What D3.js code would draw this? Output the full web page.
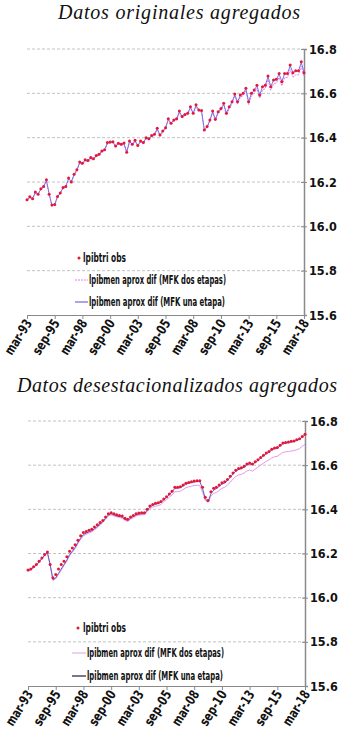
<!DOCTYPE html>
<html>
<head>
<meta charset="utf-8">
<script src="https://cdn.jsdelivr.net/npm/d3@7"></script>
<style>
  body { margin: 0; background: #fff; }
  svg { display: block; }
  .tick-lab { font-family: "Liberation Sans Narrow", "DejaVu Sans Condensed", sans-serif; font-weight: bold; font-size: 12.5px; fill: #111; }
  .xlab { font-size: 13.5px; }
  .leg { font-family: "Liberation Sans Narrow", "DejaVu Sans Condensed", sans-serif; font-weight: bold; font-size: 12px; fill: #111; }
  .title { font-family: "Liberation Serif", "DejaVu Serif", serif; font-style: italic; font-size: 20px; fill: #111; }
</style>
</head>
<body>
<div id="chart"></div>
<script>
// eje x: etiquetas cada 30 meses, eje y: niveles
var xTickLabels = ["mar-93", "sep-95", "mar-98", "sep-00", "mar-03", "sep-05", "mar-08", "sep-10", "mar-13", "sep-15", "mar-18"];
var yTicks = [15.6, 15.8, 16.0, 16.2, 16.4, 16.6, 16.8];
var legendLabels = ["lpibtri obs", "lpibmen aprox dif (MFK dos etapas)", "lpibmen aprox dif (MFK una etapa)"];
var titles = ["Datos originales agregados", "Datos desestacionalizados agregados"];

// trimestres mar-93 ... mar-18
var quarters = d3.timeMonth.range(new Date(1993, 2, 1), new Date(2018, 3, 1), 3);
var tickDates = d3.timeMonth.range(new Date(1993, 2, 1), new Date(2018, 3, 1), 30);

// ---- datos originales ----
var origObs = [
  16.120, 16.133, 16.125, 16.155, 16.145, 16.170, 16.180, 16.210,
  16.145, 16.096, 16.098, 16.135, 16.150, 16.175, 16.180, 16.218,
  16.200, 16.235, 16.255, 16.290, 16.285, 16.300, 16.297, 16.310,
  16.305, 16.320, 16.325, 16.340, 16.345, 16.378, 16.380, 16.382,
  16.362, 16.375, 16.370, 16.376, 16.334, 16.385, 16.370, 16.388,
  16.365, 16.385, 16.378, 16.400, 16.395, 16.410, 16.415, 16.442,
  16.412, 16.430, 16.445, 16.485, 16.465, 16.480, 16.485, 16.520,
  16.495, 16.505, 16.510, 16.540, 16.510, 16.548, 16.525, 16.522,
  16.435, 16.450, 16.480, 16.520, 16.483, 16.517, 16.532, 16.555,
  16.510, 16.540, 16.562, 16.597, 16.562, 16.592, 16.600, 16.623,
  16.562, 16.600, 16.615, 16.637, 16.592, 16.630, 16.637, 16.678,
  16.630, 16.660, 16.663, 16.690, 16.652, 16.690, 16.690, 16.728,
  16.693, 16.702, 16.702, 16.743, 16.693
];
var origDos = [
  16.117, 16.129, 16.123, 16.150, 16.143, 16.166, 16.178, 16.204,
  16.144, 16.092, 16.097, 16.130, 16.147, 16.170, 16.177, 16.212,
  16.198, 16.230, 16.251, 16.284, 16.281, 16.295, 16.293, 16.305,
  16.301, 16.315, 16.321, 16.335, 16.341, 16.372, 16.376, 16.377,
  16.358, 16.370, 16.366, 16.371, 16.331, 16.380, 16.366, 16.383,
  16.361, 16.380, 16.374, 16.395, 16.390, 16.405, 16.410, 16.436,
  16.407, 16.424, 16.440, 16.478, 16.460, 16.474, 16.479, 16.513,
  16.489, 16.499, 16.504, 16.533, 16.504, 16.540, 16.519, 16.515,
  16.430, 16.443, 16.472, 16.512, 16.476, 16.509, 16.524, 16.546,
  16.502, 16.531, 16.552, 16.587, 16.552, 16.582, 16.590, 16.612,
  16.550, 16.587, 16.601, 16.622, 16.578, 16.615, 16.621, 16.661,
  16.614, 16.643, 16.646, 16.672, 16.634, 16.671, 16.671, 16.708,
  16.673, 16.683, 16.683, 16.722, 16.675
];
var origUna = [
  16.118, 16.131, 16.126, 16.153, 16.146, 16.168, 16.181, 16.207,
  16.147, 16.094, 16.100, 16.133, 16.151, 16.173, 16.181, 16.215,
  16.202, 16.233, 16.256, 16.287, 16.286, 16.298, 16.298, 16.308,
  16.306, 16.318, 16.326, 16.338, 16.346, 16.375, 16.380, 16.380,
  16.363, 16.373, 16.371, 16.374, 16.336, 16.383, 16.371, 16.386,
  16.366, 16.383, 16.379, 16.398, 16.396, 16.408, 16.416, 16.440,
  16.413, 16.428, 16.446, 16.482, 16.466, 16.478, 16.486, 16.517,
  16.496, 16.503, 16.511, 16.537, 16.511, 16.545, 16.526, 16.520,
  16.437, 16.449, 16.479, 16.517, 16.484, 16.515, 16.532, 16.552,
  16.511, 16.538, 16.561, 16.594, 16.562, 16.590, 16.600, 16.620,
  16.563, 16.598, 16.614, 16.634, 16.593, 16.628, 16.636, 16.675,
  16.631, 16.658, 16.662, 16.687, 16.653, 16.688, 16.690, 16.724,
  16.693, 16.700, 16.702, 16.739, 16.694
];

// ---- datos desestacionalizados ----
var saObs = [
  16.125, 16.130, 16.140, 16.150, 16.165, 16.180, 16.195, 16.207,
  16.150, 16.090, 16.105, 16.130, 16.150, 16.165, 16.185, 16.210,
  16.225, 16.240, 16.260, 16.280, 16.295, 16.300, 16.305, 16.310,
  16.320, 16.330, 16.340, 16.350, 16.365, 16.380, 16.385, 16.380,
  16.375, 16.372, 16.370, 16.360, 16.355, 16.365, 16.372, 16.380,
  16.383, 16.385, 16.385, 16.400, 16.415, 16.422, 16.427, 16.430,
  16.435, 16.447, 16.457, 16.470, 16.482, 16.500, 16.500, 16.502,
  16.510, 16.518, 16.522, 16.525, 16.528, 16.530, 16.530, 16.500,
  16.455, 16.440, 16.480, 16.495, 16.500, 16.510, 16.520, 16.525,
  16.535, 16.550, 16.565, 16.577, 16.585, 16.588, 16.595, 16.605,
  16.610, 16.605, 16.615, 16.625, 16.635, 16.645, 16.655, 16.662,
  16.672, 16.678, 16.680, 16.690, 16.700, 16.703, 16.705, 16.708,
  16.710, 16.715, 16.720, 16.730, 16.740
];
var saDos = [
  16.120, 16.126, 16.136, 16.146, 16.160, 16.175, 16.190, 16.202,
  16.145, 16.078, 16.085, 16.105, 16.125, 16.145, 16.165, 16.190,
  16.205, 16.222, 16.244, 16.265, 16.280, 16.287, 16.293, 16.298,
  16.307, 16.317, 16.328, 16.340, 16.355, 16.370, 16.375, 16.370,
  16.366, 16.363, 16.360, 16.350, 16.345, 16.355, 16.362, 16.370,
  16.373, 16.375, 16.375, 16.389, 16.403, 16.410, 16.414, 16.417,
  16.421, 16.435, 16.444, 16.455, 16.465, 16.480, 16.480, 16.482,
  16.490, 16.498, 16.502, 16.505, 16.508, 16.509, 16.508, 16.478,
  16.440, 16.432, 16.460, 16.472, 16.476, 16.485, 16.495, 16.500,
  16.509, 16.523, 16.537, 16.549, 16.556, 16.558, 16.565, 16.574,
  16.578, 16.573, 16.582, 16.591, 16.600, 16.609, 16.618, 16.624,
  16.633, 16.638, 16.640, 16.649, 16.658, 16.660, 16.662, 16.664,
  16.666, 16.670, 16.675, 16.685, 16.695
];
var saUna = [
  16.122, 16.128, 16.138, 16.148, 16.162, 16.178, 16.192, 16.205,
  16.150, 16.082, 16.090, 16.110, 16.130, 16.150, 16.170, 16.195,
  16.210, 16.228, 16.250, 16.270, 16.285, 16.292, 16.298, 16.303,
  16.312, 16.322, 16.332, 16.345, 16.360, 16.375, 16.380, 16.375,
  16.370, 16.367, 16.365, 16.355, 16.350, 16.360, 16.367, 16.375,
  16.378, 16.380, 16.380, 16.395, 16.410, 16.418, 16.423, 16.427,
  16.432, 16.444, 16.454, 16.467, 16.479, 16.495, 16.496, 16.498,
  16.506, 16.514, 16.518, 16.521, 16.524, 16.526, 16.526, 16.495,
  16.448, 16.435, 16.470, 16.487, 16.494, 16.504, 16.514, 16.520,
  16.530, 16.545, 16.560, 16.572, 16.580, 16.584, 16.591, 16.601,
  16.606, 16.602, 16.612, 16.622, 16.632, 16.642, 16.652, 16.659,
  16.669, 16.675, 16.677, 16.687, 16.697, 16.700, 16.702, 16.705,
  16.707, 16.712, 16.717, 16.727, 16.737
];

var panels = [
  { title: titles[0], titleX: 179, titleY: 19, titleAnchor: "middle", titleLen: 242,
    left: 27, right: 304, top: 49, bottom: 315,
    obs: origObs, dos: origDos, una: origUna,
    dosColor: "#e47ce6", dosDash: "2,1", unaColor: "#7f70e4", legUnaColor: "#7f70e4",
    leg: { dotX: 79, dotY: 258, textX: 83, y: [262, 284, 306], lineX: [75, 88], lineY: [280, 302], textX2: 89 } },
  { title: titles[1], titleX: 17, titleY: 392, titleAnchor: "start", titleLen: 320,
    left: 28, right: 305, top: 421, bottom: 686,
    obs: saObs, dos: saDos, una: saUna,
    dosColor: "#e39be8", dosDash: null, unaColor: "#5e5ec4", legUnaColor: "#2e2e5c",
    leg: { dotX: 78, dotY: 628, textX: 83, y: [632, 657, 680], lineX: [72, 86], lineY: [653, 676], textX2: 87 } }
];

var svg = d3.select("#chart").append("svg")
  .attr("width", 339)
  .attr("height", 737);

panels.forEach(function (p) {
  var g = svg.append("g");

  var x = d3.scaleTime()
    .domain([quarters[0], quarters[quarters.length - 1]])
    .range([p.left, p.right]);
  var y = d3.scaleLinear()
    .domain([15.6, 16.8])
    .range([p.bottom, p.top]);

  // titulo
  g.append("text")
    .attr("class", "title")
    .attr("x", p.titleX)
    .attr("y", p.titleY)
    .attr("text-anchor", p.titleAnchor)
    .attr("textLength", p.titleLen)
    .attr("lengthAdjust", "spacing")
    .text(p.title);

  // lineas de cuadricula
  g.selectAll(".grid")
    .data(yTicks.slice(1))
    .enter().append("line")
    .attr("x1", p.left)
    .attr("x2", p.right)
    .attr("y1", function (d) { return y(d); })
    .attr("y2", function (d) { return y(d); })
    .attr("stroke", "#b4b4b4")
    .attr("stroke-width", 0.8)
    .attr("stroke-dasharray", "3,2");

  // eje y a la derecha
  var yAxis = g.append("g")
    .attr("transform", "translate(" + p.right + ",0)")
    .call(d3.axisRight(y).tickValues(yTicks).tickFormat(d3.format(".1f")).tickSize(3).tickPadding(2));
  yAxis.select(".domain").attr("stroke", "#8a8a8a").attr("stroke-width", 1.5);
  yAxis.selectAll(".tick line").attr("stroke", "#8a8a8a").attr("x1", -3);
  yAxis.selectAll(".tick text").attr("class", "tick-lab").attr("font-size", null).attr("font-family", null);

  // eje x
  var xAxis = g.append("g")
    .attr("transform", "translate(0," + p.bottom + ")")
    .call(d3.axisBottom(x).tickValues(tickDates).tickFormat(function (d, i) { return xTickLabels[i]; }).tickSize(4).tickSizeOuter(0));
  xAxis.select(".domain").attr("stroke", "#8a8a8a").attr("stroke-width", 1.2);
  xAxis.selectAll(".tick line").attr("stroke", "#8a8a8a");
  xAxis.selectAll(".tick text")
    .attr("class", "tick-lab xlab")
    .attr("font-size", null)
    .attr("font-family", null)
    .attr("text-anchor", "end")
    .attr("dy", null)
    .attr("y", 0)
    .attr("textLength", 39)
    .attr("lengthAdjust", "spacingAndGlyphs")
    .attr("transform", "translate(5,8) rotate(-58)");

  var line = d3.line()
    .x(function (d, i) { return x(quarters[i]); })
    .y(function (d) { return y(d); });

  g.append("path")
    .datum(p.dos)
    .attr("d", line)
    .attr("fill", "none")
    .attr("stroke", p.dosColor)
    .attr("stroke-width", 1)
    .attr("stroke-dasharray", p.dosDash);

  g.append("path")
    .datum(p.una)
    .attr("d", line)
    .attr("fill", "none")
    .attr("stroke", p.unaColor)
    .attr("stroke-width", 1);

  g.selectAll(".obs")
    .data(p.obs)
    .enter().append("circle")
    .attr("cx", function (d, i) { return x(quarters[i]); })
    .attr("cy", function (d) { return y(d); })
    .attr("r", 1.5)
    .attr("fill", "#e3173a");

  // leyenda
  var L = p.leg;
  g.append("circle").attr("cx", L.dotX).attr("cy", L.dotY).attr("r", 1.5).attr("fill", "#e3173a");
  g.append("text").attr("class", "leg").attr("x", L.textX).attr("y", L.y[0])
    .attr("textLength", 43).attr("lengthAdjust", "spacingAndGlyphs").text(legendLabels[0]);

  g.append("line").attr("x1", L.lineX[0]).attr("x2", L.lineX[1]).attr("y1", L.lineY[0]).attr("y2", L.lineY[0])
    .attr("stroke", p.dosColor).attr("stroke-width", 1).attr("stroke-dasharray", p.dosDash);
  g.append("text").attr("class", "leg").attr("x", L.textX2).attr("y", L.y[1])
    .attr("textLength", 137).attr("lengthAdjust", "spacingAndGlyphs").text(legendLabels[1]);

  g.append("line").attr("x1", L.lineX[0]).attr("x2", L.lineX[1]).attr("y1", L.lineY[1]).attr("y2", L.lineY[1])
    .attr("stroke", p.legUnaColor).attr("stroke-width", 1.3);
  g.append("text").attr("class", "leg").attr("x", L.textX2).attr("y", L.y[2])
    .attr("textLength", 136).attr("lengthAdjust", "spacingAndGlyphs").text(legendLabels[2]);
});
</script>
</body>
</html>
